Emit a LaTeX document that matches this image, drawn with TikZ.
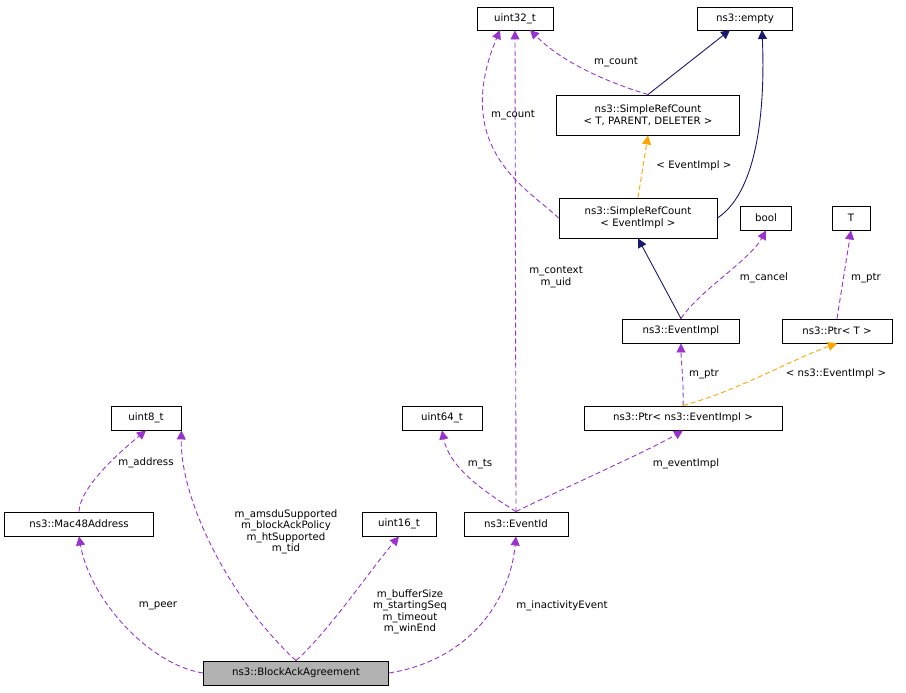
\documentclass[tikz,border=0pt]{standalone}
\usepackage{fontspec}
\setmainfont{DejaVu Sans}
\usetikzlibrary{arrows.meta}
\definecolor{usec}{HTML}{9A32CD}
\definecolor{inh}{HTML}{191970}
\definecolor{tpl}{HTML}{FFA500}
\begin{document}
\begin{tikzpicture}[x=1pt,y=-1pt,line width=0.9pt,
  box/.style={draw,line width=0.9pt,fill=white,inner sep=0pt,align=center,font=\fontsize{10.2}{12}\selectfont},
  lab/.style={font=\fontsize{10.2}{11.5}\selectfont,align=center,inner sep=1pt},
  use/.style={draw=usec,dash pattern=on 5pt off 3pt,-{Triangle[length=9pt,width=9pt,fill=usec]}},
  inhe/.style={draw=inh,-{Triangle[length=9pt,width=9pt,fill=inh]}},
  tp/.style={draw=tpl,dash pattern=on 5pt off 3pt,-{Triangle[length=9pt,width=9pt,fill=tpl]}}]
\useasboundingbox (0,0) rectangle (906,693);
\node[box,minimum width=76,minimum height=23] (u32) at (515,18.5) {uint32\_t};
\node[box,minimum width=95,minimum height=23] (empty) at (745,18.5) {ns3::empty};
\node[box,minimum width=183,minimum height=40] (srct) at (648,115) {ns3::SimpleRefCount\\< T, PARENT, DELETER >};
\node[box,minimum width=158,minimum height=40] (srce) at (638,218) {ns3::SimpleRefCount\\< EventImpl >};
\node[box,minimum width=51,minimum height=24] (bool) at (766,218) {bool};
\node[box,minimum width=38,minimum height=24] (T) at (851,218) {T};
\node[box,minimum width=117,minimum height=24] (ei) at (681,331) {ns3::EventImpl};
\node[box,minimum width=110,minimum height=24] (ptrt) at (837,331) {ns3::Ptr< T >};
\node[box,minimum width=70,minimum height=24] (u8) at (146,418) {uint8\_t};
\node[box,minimum width=80,minimum height=24] (u64) at (442,418) {uint64\_t};
\node[box,minimum width=198,minimum height=24] (ptre) at (683,418) {ns3::Ptr< ns3::EventImpl >};
\node[box,minimum width=149,minimum height=24] (mac) at (79,524) {ns3::Mac48Address};
\node[box,minimum width=74,minimum height=24] (u16) at (399,524) {uint16\_t};
\node[box,minimum width=104,minimum height=24] (eid) at (516,524) {ns3::EventId};
\node[box,fill=black!30,minimum width=185,minimum height=24] (ba) at (296,673) {ns3::BlockAckAgreement};

\draw[use] (ba.west) .. controls (150,665) and (90,600) .. (mac.south);
\node[lab] at (158,606) {m\_peer};
\draw[use] (ba.north) .. controls (230,600) and (180,500) .. (u8.south east);
\node[lab] at (286,532) {m\_amsduSupported\\m\_blockAckPolicy\\m\_htSupported\\m\_tid};
\draw[use] (mac.north) .. controls (80,490) and (110,460) .. (u8.south);
\node[lab] at (146,463) {m\_address};
\draw[use] (ba.north) .. controls (330,630) and (370,570) .. (u16.south);
\node[lab] at (410,612) {m\_bufferSize\\m\_startingSeq\\m\_timeout\\m\_winEnd};
\draw[use] (ba.east) .. controls (470,660) and (510,600) .. (eid.south);
\node[lab] at (562,606) {m\_inactivityEvent};
\draw[use] (eid.north) .. controls (490,495) and (450,470) .. (u64.south);
\node[lab] at (480,464) {m\_ts};
\draw[use] (eid.north) .. controls (560,490) and (650,450) .. (ptre.south);
\node[lab] at (686,464) {m\_eventImpl};
\draw[use] (eid.north) -- (u32.south);
\node[lab] at (556,277) {m\_context\\m\_uid};
\draw[use] (ptre.north) .. controls (684,385) and (681,360) .. (ei.south);
\node[lab] at (704,374) {m\_ptr};
\draw[tp] (ptre.north) .. controls (740,390) and (790,360) .. (ptrt.south);
\node[lab] at (836,374) {< ns3::EventImpl >};
\draw[use] (ptrt.north) -- (T.south);
\node[lab] at (866,278) {m\_ptr};
\draw[use] (ei.north) .. controls (700,290) and (750,260) .. (bool.south);
\node[lab] at (764,278) {m\_cancel};
\draw[inhe] (ei.north) -- (srce.south);
\draw[tp] (srce.north) -- (srct.south);
\node[lab] at (694,166) {< EventImpl >};
\draw[inhe] (srce.east) .. controls (760,190) and (765,100) .. (762,30);
\draw[inhe] (srct.north) -- (730,30);
\draw[use] (srct.north) .. controls (600,80) and (560,60) .. (530,30);
\node[lab] at (616,62) {m\_count};
\draw[use] (srce.west) .. controls (530,190) and (450,150) .. (500,30);
\node[lab] at (513,115) {m\_count};
\end{tikzpicture}
\end{document}
